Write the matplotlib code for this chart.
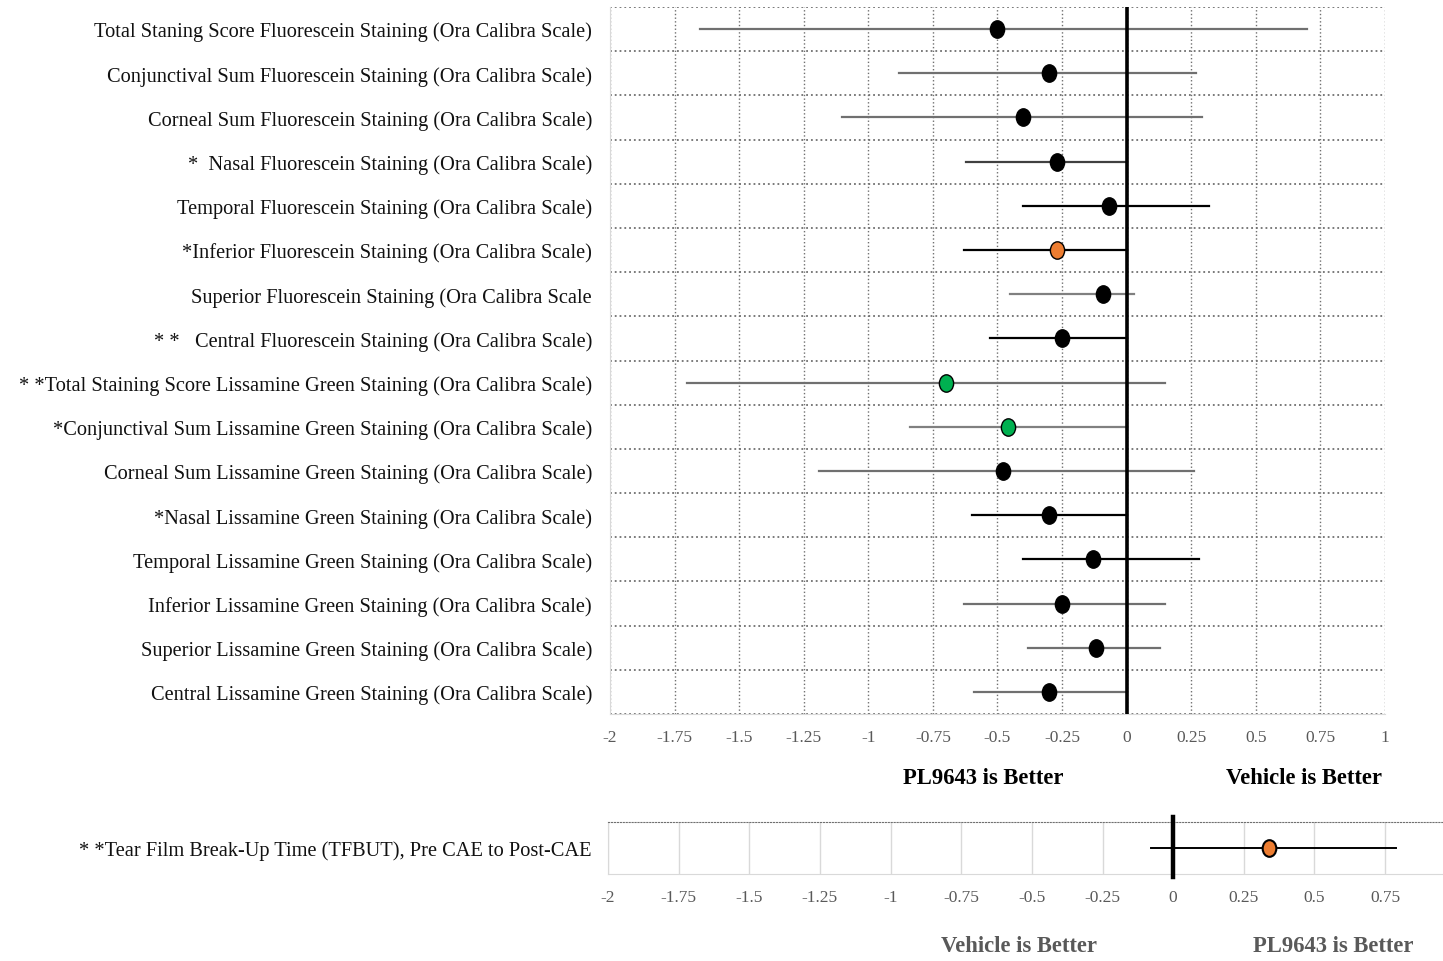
import matplotlib.pyplot as plt
import numpy as np
from matplotlib.path import Path
from matplotlib.transforms import Affine2D

plt.rcParams['font.family'] = ['Liberation Serif', 'DejaVu Serif']
plt.rcParams['axes.unicode_minus'] = False

labels = [
    'Total Staning Score Fluorescein Staining (Ora Calibra Scale)',
    'Conjunctival Sum Fluorescein Staining (Ora Calibra Scale)',
    'Corneal Sum Fluorescein Staining (Ora Calibra Scale)',
    '*  Nasal Fluorescein Staining (Ora Calibra Scale)',
    'Temporal Fluorescein Staining (Ora Calibra Scale)',
    '*Inferior Fluorescein Staining (Ora Calibra Scale)',
    'Superior Fluorescein Staining (Ora Calibra Scale',
    '* *   Central Fluorescein Staining (Ora Calibra Scale)',
    '* *Total Staining Score Lissamine Green Staining (Ora Calibra Scale)',
    '*Conjunctival Sum Lissamine Green Staining (Ora Calibra Scale)',
    'Corneal Sum Lissamine Green Staining (Ora Calibra Scale)',
    '*Nasal Lissamine Green Staining (Ora Calibra Scale)',
    'Temporal Lissamine Green Staining (Ora Calibra Scale)',
    'Inferior Lissamine Green Staining (Ora Calibra Scale)',
    'Superior Lissamine Green Staining (Ora Calibra Scale)',
    'Central Lissamine Green Staining (Ora Calibra Scale)',
]
means = [-0.50, -0.30, -0.40, -0.27, -0.07, -0.27, -0.09, -0.25,
         -0.70, -0.46, -0.48, -0.30, -0.13, -0.25, -0.12, -0.30]
lower = [-1.65, -0.88, -1.10, -0.62, -0.40, -0.63, -0.45, -0.53,
         -1.70, -0.84, -1.19, -0.60, -0.40, -0.63, -0.38, -0.59]
upper = [0.70, 0.27, 0.29, 0.0, 0.32, 0.0, 0.03, 0.0,
         0.15, 0.0, 0.26, 0.0, 0.28, 0.15, 0.13, 0.0]

tf_label = '* *Tear Film Break-Up Time (TFBUT), Pre CAE to Post-CAE'
tf_mean = 0.34
tf_lower = -0.08
tf_upper = 0.79

dot_colors = ['black'] * 5 + ['#ED7D31'] + ['black'] * 2 + ['#00B050'] * 2 + ['black'] * 6
line_colors = ['#707070', '#707070', '#707070', '#404040', 'black', 'black', '#808080', 'black',
               '#707070', '#808080', '#707070', 'black', 'black', '#707070', '#707070', '#707070']

ell = Path.unit_circle().transformed(Affine2D().scale(0.82, 1.0))

fig = plt.figure(figsize=(14.43, 9.62), dpi=100)

# main forest plot
ax = fig.add_axes([610 / 1443, 1 - 715 / 962, 775 / 1443, 707 / 962])
y = np.arange(len(labels))
for i in range(len(labels)):
    ax.plot([lower[i], upper[i]], [y[i], y[i]], color=line_colors[i], lw=1.6, zorder=3)
    ax.plot(means[i], y[i], marker=ell, ms=12.5, mfc=dot_colors[i], mec='black', mew=1,
            ls='none', zorder=4)
ax.axvline(0, color='black', lw=2.6, zorder=3)
ax.set_xlim(-2, 1)
ax.set_ylim(15.5, -0.5)
xt = np.arange(-2, 1.01, 0.25)
ax.set_xticks(xt)
ax.set_xticklabels([f'{t:g}' for t in xt])
ax.set_yticks(y)
ax.set_yticklabels(labels, fontsize=14.7, color='#111111')
ax.set_yticks(np.arange(-0.5, 16, 1), minor=True)
ax.tick_params(axis='y', which='both', length=0, pad=13)
ax.tick_params(axis='x', length=0, pad=11, labelcolor='#595959', labelsize=12.5)
ax.grid(axis='x', which='major', ls=':', color='#707070', lw=1)
ax.grid(axis='y', which='minor', ls=':', color='#707070', lw=1.3)
ax.grid(axis='y', which='major', visible=False)
for s in ['top', 'right']:
    ax.spines[s].set_visible(False)
for s in ['left', 'bottom']:
    ax.spines[s].set_color('#d9d9d9')

fig.text(983 / 1443, 1 - 779 / 962, 'PL9643 is Better', ha='center', va='center',
         fontsize=16.3, fontweight='bold')
fig.text(1304 / 1443, 1 - 779 / 962, 'Vehicle is Better', ha='center', va='center',
         fontsize=16.3, fontweight='bold')

# TFBUT panel
ax2 = fig.add_axes([608 / 1443, 1 - 875 / 962, 835 / 1443, 52 / 962])
ax2.plot([tf_lower, tf_upper], [0, 0], color='black', lw=1.4, zorder=3)
ax2.plot(tf_mean, 0, marker=ell, ms=12, mfc='#ED7D31', mec='black', mew=1.5, ls='none', zorder=4)
ax2.axvline(0, ymin=-0.05, ymax=1.1, color='black', lw=3.2, zorder=3, clip_on=False)
ax2.set_xlim(-2, 0.955)
ax2.set_ylim(-1, 1)
xt2 = np.arange(-2, 0.76, 0.25)
ax2.set_xticks(xt2)
ax2.set_xticklabels([f'{t:g}' for t in xt2])
ax2.set_yticks([0])
ax2.set_yticklabels([tf_label], fontsize=14.7, color='#111111')
ax2.tick_params(axis='y', length=0, pad=12)
ax2.tick_params(axis='x', length=0, pad=11, labelcolor='#595959', labelsize=12.5)
ax2.grid(axis='x', color='#d9d9d9', lw=1)
ax2.spines['right'].set_visible(False)
ax2.spines['top'].set_linestyle(':')
ax2.spines['top'].set_color('#707070')
for s in ['left', 'bottom']:
    ax2.spines[s].set_color('#d9d9d9')

fig.text(1019 / 1443, 1 - 947 / 962, 'Vehicle is Better', ha='center', va='center',
         fontsize=16.3, fontweight='bold', color='#595959')
fig.text(1333 / 1443, 1 - 947 / 962, 'PL9643 is Better', ha='center', va='center',
         fontsize=16.3, fontweight='bold', color='#595959')

fig.savefig('out.png', dpi=100)
